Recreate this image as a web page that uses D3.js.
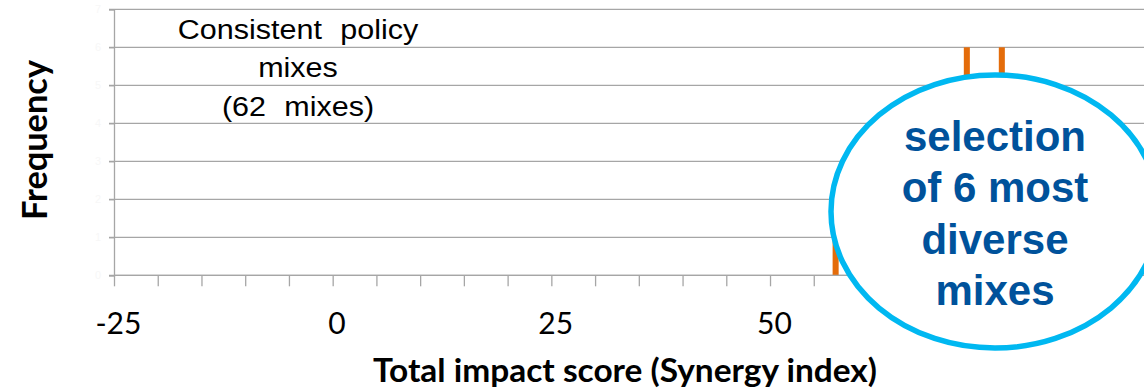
<!DOCTYPE html>
<html>
<head>
<meta charset="utf-8">
<script src="https://cdn.jsdelivr.net/npm/d3@7"></script>
<style>
  html, body { margin: 0; padding: 0; background: #ffffff; }
  svg { display: block; }
</style>
</head>
<body>
<div id="chart"></div>
<script>
// Histogram of total impact scores (synergy index) for consistent policy mixes
const binScores = [57, 60, 62, 63, 64, 65, 66, 67, 68, 69, 70, 71, 72, 73, 74, 75, 76, 77, 78, 79, 80, 81, 82];
const binCounts = [1, 1, 2, 1, 2, 3, 2, 3, 4, 3, 4, 5, 6, 4, 5, 3, 6, 2, 1, 1, 1, 1, 1];
const scoreMin = -25;
const scoreMax = 100;
const xTickLabels = [-25, 0, 25, 50];
const yTickValues = [0, 1, 2, 3, 4, 5, 6, 7];
const noteLines = ["Consistent policy", "mixes"];
const calloutLines = ["selection", "of 6 most", "diverse", "mixes"];

const W = 1144, H = 390;
const gridColor = "#a6a6a6";
const barColor = "#e46c0a";

const svg = d3.select("#chart").append("svg")
  .attr("width", W).attr("height", H)
  .style("background", "#ffffff");

// one category per integer score; ticks sit on category boundaries
const categories = d3.range(scoreMin, scoreMax + 1);
const unit = 8.747;
const x0 = 114;
const xEdge = d3.scaleLinear()
  .domain([scoreMin, scoreMax + 1])
  .range([x0, x0 + (scoreMax + 1 - scoreMin) * unit]);
const xBand = d3.scaleBand()
  .domain(categories)
  .range(xEdge.range())
  .paddingInner(0.31)
  .paddingOuter(0.155);

const y = d3.scaleLinear().domain([0, 7]).range([275.3, 9.3]);

// horizontal grid lines
svg.append("g")
  .selectAll("line")
  .data(yTickValues)
  .join("line")
  .attr("x1", x0 - 5).attr("x2", W)
  .attr("y1", d => y(d)).attr("y2", d => y(d))
  .attr("stroke", gridColor).attr("stroke-width", 1.3);

// y axis: line plus barely visible tick labels
const yAxis = svg.append("g")
  .attr("transform", `translate(${x0},0)`)
  .call(d3.axisLeft(y).tickValues(yTickValues).tickSize(5).tickPadding(8).tickFormat(d3.format("d")));
yAxis.select(".domain").attr("stroke", gridColor).attr("stroke-width", 1.3);
yAxis.selectAll(".tick line").attr("stroke", gridColor).attr("stroke-width", 1.3);
yAxis.selectAll(".tick text")
  .attr("fill", "#f7f7f7")
  .style("font-family", "'Liberation Sans', Arial, sans-serif")
  .style("font-size", "11px");

// bars
const counts = new Map(binScores.map((s, i) => [s, binCounts[i]]));
svg.append("g")
  .selectAll("rect")
  .data(binScores)
  .join("rect")
  .attr("x", d => xBand(d))
  .attr("width", xBand.bandwidth())
  .attr("y", d => y(counts.get(d)))
  .attr("height", d => y(0) - y(counts.get(d)))
  .attr("fill", barColor);

// x axis: ticks every 5 points on category boundaries
const xAxis = svg.append("g")
  .attr("transform", `translate(0,${y(0)})`)
  .call(d3.axisBottom(xEdge).tickValues(d3.range(scoreMin, scoreMax + 1, 5)).tickSize(11).tickFormat(""));
xAxis.select(".domain").remove();
xAxis.append("line")
  .attr("x1", x0).attr("x2", W)
  .attr("stroke", gridColor).attr("stroke-width", 1.3);
xAxis.selectAll(".tick line").attr("stroke", gridColor).attr("stroke-width", 1.3);

// category labels centred in their category
svg.append("g")
  .selectAll("text")
  .data(xTickLabels)
  .join("text")
  .attr("x", d => xBand(d) + xBand.bandwidth() / 2)
  .attr("y", 334)
  .attr("text-anchor", "middle")
  .attr("fill", "#000")
  .style("font-family", "Lato, 'Liberation Sans', sans-serif")
  .style("font-size", "30px")
  .text(d => d);

// axis titles
svg.append("text")
  .attr("x", 625).attr("y", 382)
  .attr("text-anchor", "middle")
  .attr("textLength", 504)
  .attr("lengthAdjust", "spacingAndGlyphs")
  .attr("fill", "#000")
  .style("font-family", "Lato, 'Liberation Sans', sans-serif")
  .style("font-weight", "700")
  .style("font-size", "32px")
  .text("Total impact score (Synergy index)");

svg.append("text")
  .attr("transform", "translate(47,140) rotate(-90)")
  .attr("text-anchor", "middle")
  .attr("textLength", 160)
  .attr("lengthAdjust", "spacingAndGlyphs")
  .attr("fill", "#000")
  .style("font-family", "Lato, 'Liberation Sans', sans-serif")
  .style("font-weight", "700")
  .style("font-size", "34px")
  .text("Frequency");

// note in the upper left
const total = d3.sum(binCounts);
const note = noteLines.concat([`(${total} mixes)`]);
svg.append("g")
  .selectAll("text")
  .data(note)
  .join("text")
  .attr("transform", (d, i) => `translate(298,${38.5 + i * 38.5}) scale(1.09,1)`)
  .attr("text-anchor", "middle")
  .attr("fill", "#000")
  .style("font-family", "'Liberation Sans', Arial, sans-serif")
  .style("font-size", "28px")
  .style("word-spacing", "9px")
  .text(d => d);

// callout ellipse over the high-scoring bins
svg.append("ellipse")
  .attr("cx", 995).attr("cy", 211.5)
  .attr("rx", 164).attr("ry", 136.5)
  .attr("fill", "#ffffff")
  .attr("stroke", "#00b8f1")
  .attr("stroke-width", 5.5);

svg.append("g")
  .selectAll("text")
  .data(calloutLines)
  .join("text")
  .attr("x", 995)
  .attr("y", (d, i) => 150.7 + i * 51.4)
  .attr("text-anchor", "middle")
  .attr("fill", "#00529b")
  .style("font-family", "'Liberation Sans', Arial, sans-serif")
  .style("font-weight", "700")
  .style("font-size", "42px")
  .text(d => d);
</script>
</body>
</html>
